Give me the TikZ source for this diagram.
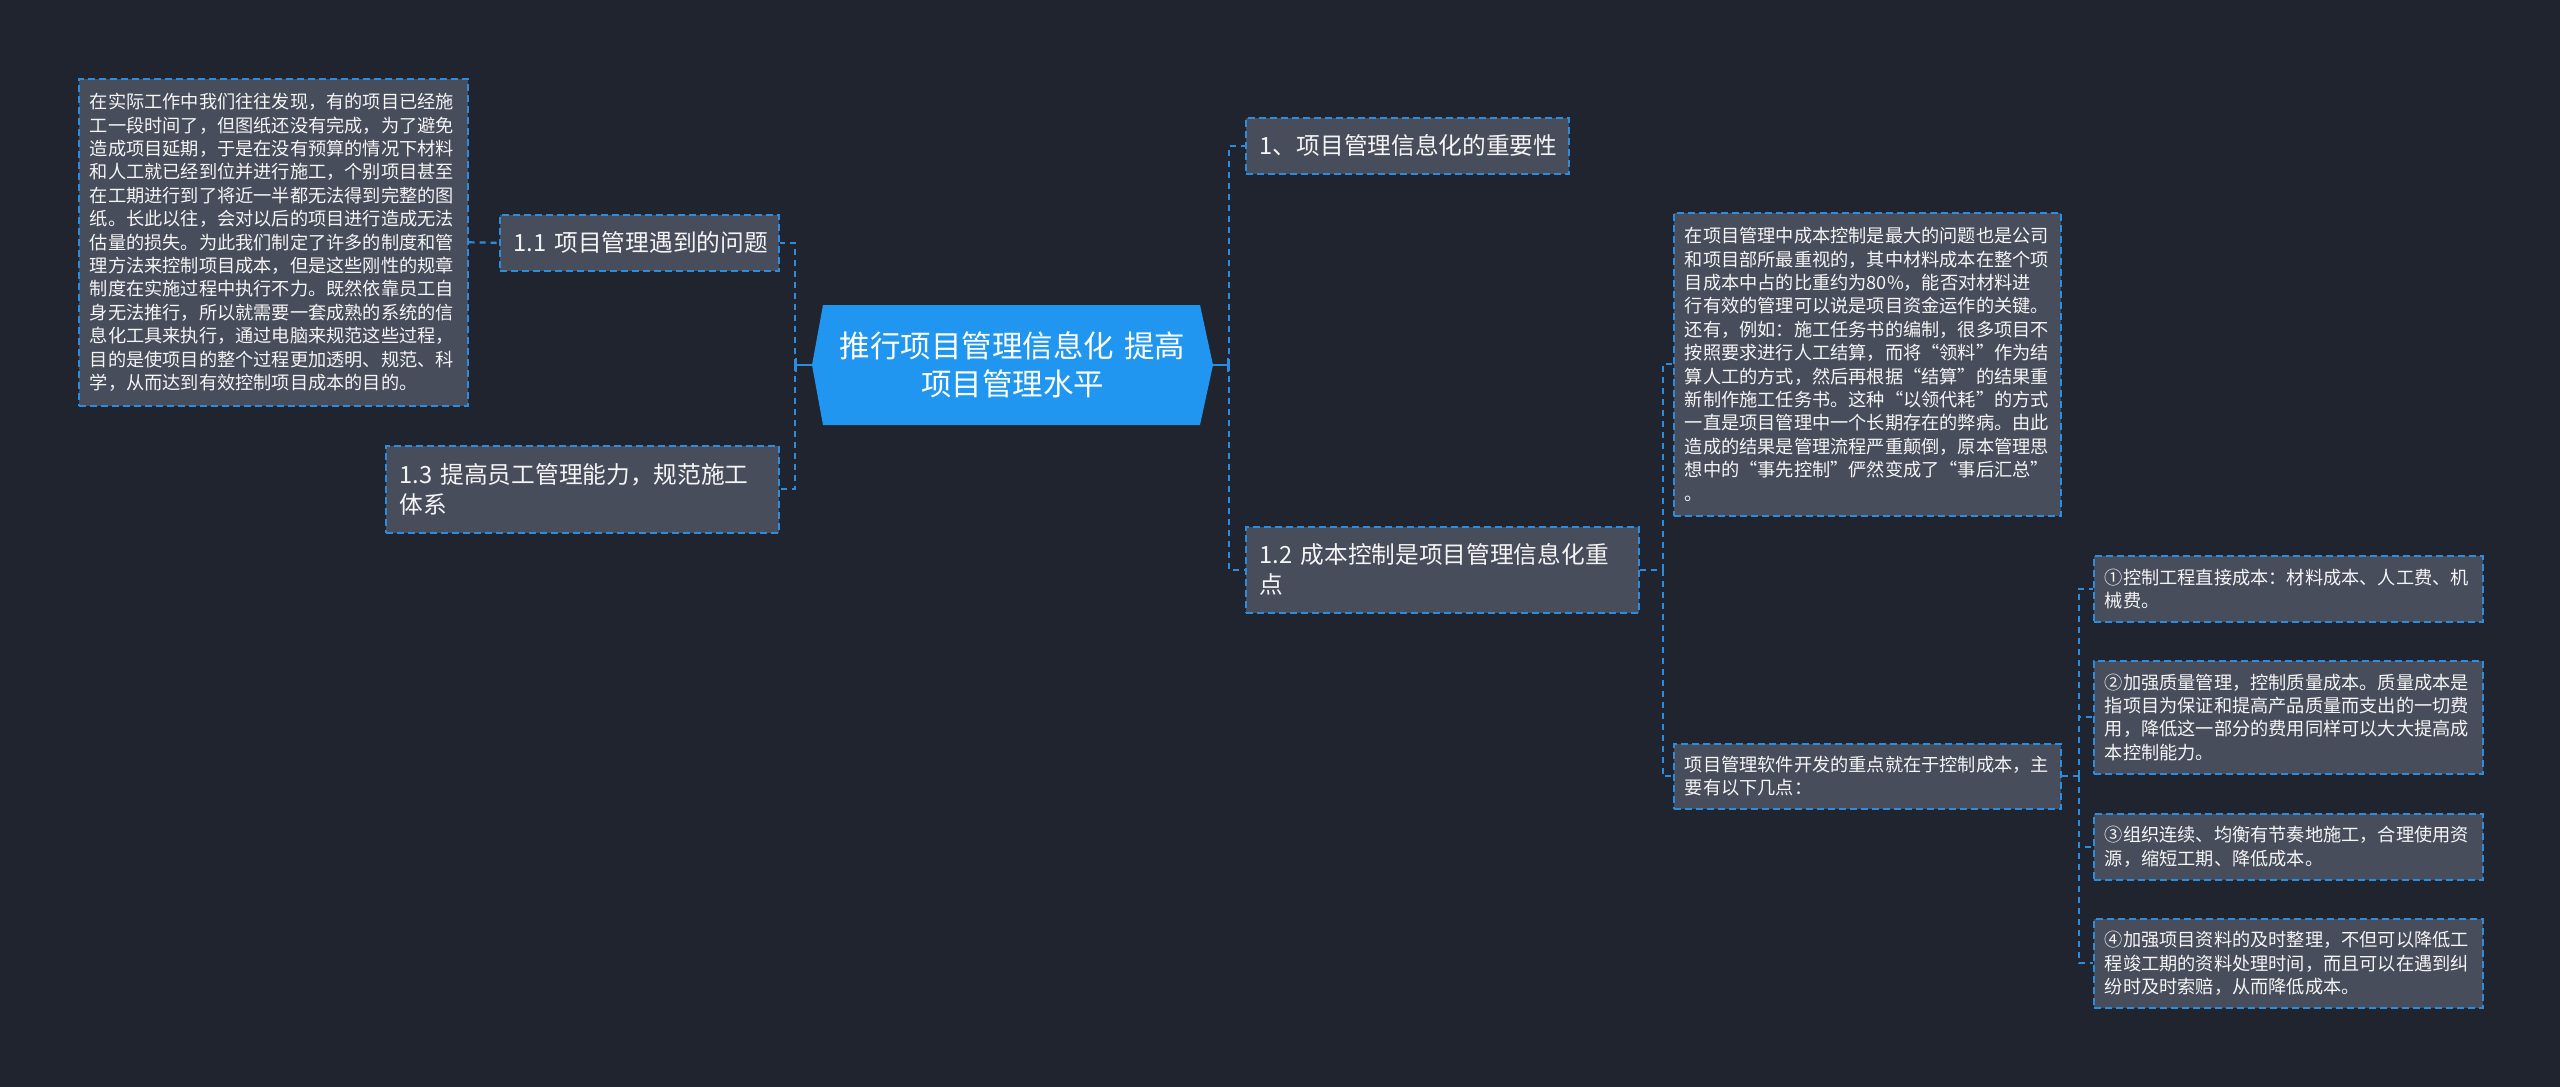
\documentclass[tikz,border=0pt]{standalone}
\usepackage{fontspec}
\setmainfont{Noto Sans CJK SC}
\usetikzlibrary{arrows.meta}

\definecolor{bgdark}{HTML}{20242F}
\definecolor{cardgray}{HTML}{474D5B}
\definecolor{linkblue}{HTML}{2A8DE0}
\definecolor{rootblue}{HTML}{2196F0}
\definecolor{txtwhite}{HTML}{F4F4F4}

\newcommand{\smallsize}{\fontsize{18.2}{23.4}\selectfont}
\newcommand{\midsize}{\fontsize{23.7}{30}\selectfont}
\newcommand{\rootsize}{\fontsize{30.5}{38}\selectfont}

\tikzset{
  card/.style={anchor=north west, draw=linkblue, fill=cardgray, dash pattern=on 7pt off 4pt,
    line width=1.6pt, text=txtwhite, align=left, inner xsep=11pt, inner ysep=0pt, font=\smallsize},
  subcard/.style={card, font=\midsize, inner xsep=14pt},
  link/.style={draw=linkblue, line width=2.2pt, dash pattern=on 6pt off 5pt},
  rootlink/.style={draw=linkblue, line width=2.4pt, -{Bar[width=14pt,line width=2.4pt]}},
}

\begin{document}
\begin{tikzpicture}[x=1pt,y=-1pt]
        \fill[bgdark] (0,0) rectangle (2560,1087);
        \useasboundingbox (0,0) rectangle (2560,1087);

        % root
        \fill[rootblue] (812,365) -- (823,305) -- (1200,305) -- (1213,365) -- (1200,425) -- (823,425) -- cycle;
        \node[minimum width=401, minimum height=120, text width=380, align=center, text=white, font=\rootsize] (root) at (1012.5,365) {推行项目管理信息化 提高\\项目管理水平};

        % left side
        \node[subcard, text width=251, minimum height=56] (p11) at (499,214) {1.1~项目管理遇到的问题};
        \node[subcard, text width=365, minimum height=87] (p13) at (385,445) {1.3~提高员工管理能力，规范施工\\体系};
        \node[card, text width=367, minimum height=327] (lft) at (78,78) {在实际工作中我们往往发现，有的项目已经施\\工一段时间了，但图纸还没有完成，为了避免\\造成项目延期，于是在没有预算的情况下材料\\和人工就已经到位并进行施工，个别项目甚至\\在工期进行到了将近一半都无法得到完整的图\\纸。长此以往，会对以后的项目进行造成无法\\估量的损失。为此我们制定了许多的制度和管\\理方法来控制项目成本，但是这些刚性的规章\\制度在实施过程中执行不力。既然依靠员工自\\身无法推行，所以就需要一套成熟的系统的信\\息化工具来执行，通过电脑来规范这些过程，\\目的是使项目的整个过程更加透明、规范、科\\学，从而达到有效控制项目成本的目的。};

        % right side
        \node[subcard, text width=295, minimum height=56] (p1) at (1245,117) {1、项目管理信息化的重要性};
        \node[subcard, text width=365, minimum height=86] (p12) at (1245,526) {1.2~成本控制是项目管理信息化重\\点};
        \node[card, text width=365, minimum height=303] (cost) at (1673,212) {在项目管理中成本控制是最大的问题也是公司\\和项目部所最重视的，其中材料成本在整个项\\目成本中占的比重约为80\%，能否对材料进\\行有效的管理可以说是项目资金运作的关键。\\还有，例如：施工任务书的编制，很多项目不\\按照要求进行人工结算，而将“领料”作为结\\算人工的方式，然后再根据“结算”的结果重\\新制作施工任务书。这种“以领代耗”的方式\\一直是项目管理中一个长期存在的弊病。由此\\造成的结果是管理流程严重颠倒，原本管理思\\想中的“事先控制”俨然变成了“事后汇总”\\。};
        \node[card, text width=365, minimum height=65] (soft) at (1673,743) {项目管理软件开发的重点就在于控制成本，主\\要有以下几点：};

        \node[card, text width=367, minimum height=66] (i1) at (2093,555) {①控制工程直接成本：材料成本、人工费、机\\械费。};
        \node[card, text width=367, minimum height=113] (i2) at (2093,660) {②加强质量管理，控制质量成本。质量成本是\\指项目为保证和提高产品质量而支出的一切费\\用，降低这一部分的费用同样可以大大提高成\\本控制能力。};
        \node[card, text width=367, minimum height=66] (i3) at (2093,813) {③组织连续、均衡有节奏地施工，合理使用资\\源，缩短工期、降低成本。};
        \node[card, text width=367, minimum height=89] (i4) at (2093,918) {④加强项目资料的及时整理，不但可以降低工\\程竣工期的资料处理时间，而且可以在遇到纠\\纷时及时索赔，从而降低成本。};

        % connectors
        \coordinate (lbus) at ([xshift=-17]root.west);
        \coordinate (rbus) at ([xshift=16]root.east);
        \draw[rootlink] (root.west) -- (lbus);
        \draw[rootlink] (root.east) -- (rbus);
        \draw[link] (lbus) |- (p11.east);
        \draw[link] (lbus) |- (p13.east);
        \draw[link] (rbus) |- (p1.west);
        \draw[link] (rbus) |- (p12.west);
        \draw[link] (lft.east) -- (p11.west);

        \coordinate (cbus) at ([xshift=23]p12.east);
        \draw[link] (p12.east) -- (cbus);
        \draw[link] (cbus) |- (cost.west);
        \draw[link] (cbus) |- (soft.west);

        \coordinate (sbus) at ([xshift=17]soft.east);
        \draw[link] (soft.east) -- (sbus);
        \foreach \i in {i1,i2,i3,i4}
          \draw[link] (sbus) |- (\i.west);
    \end{tikzpicture}
\end{document}
